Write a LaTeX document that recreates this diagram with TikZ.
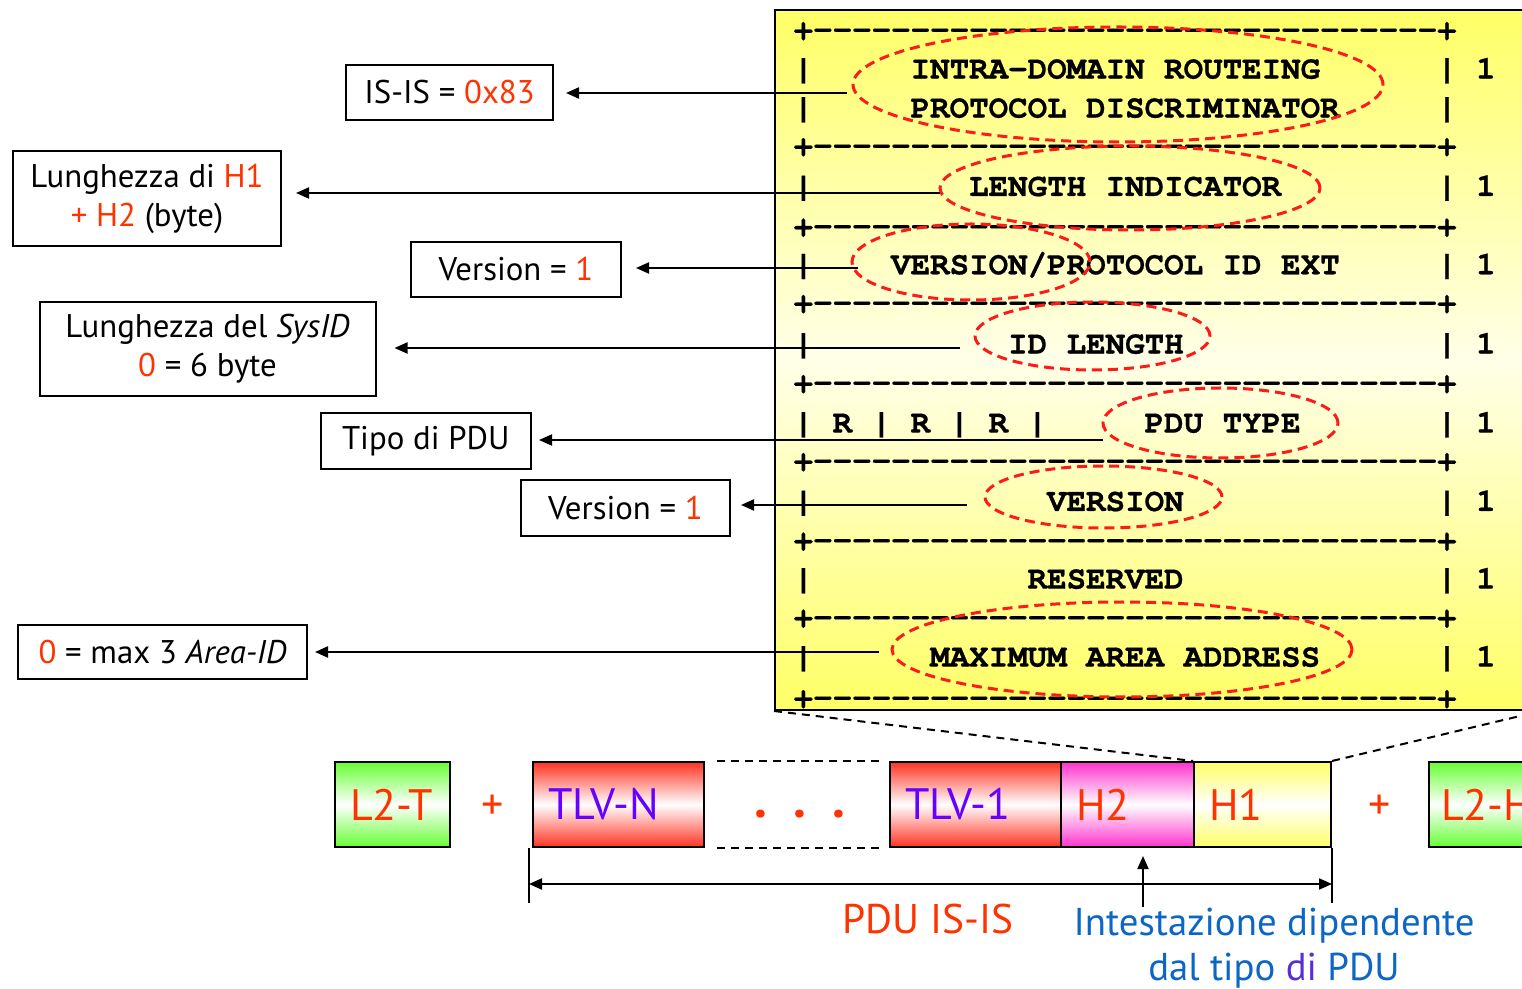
\documentclass[tikz,border=0pt]{standalone}
\usepackage{fontspec}
\setmainfont{PT Sans}
\setmonofont{texgyrecursor}[Extension=.otf,UprightFont=*-regular,BoldFont=*-bold,ItalicFont=*-italic,BoldItalicFont=*-bolditalic,BoldFeatures={FakeBold=0.6}]
\usetikzlibrary{shapes.geometric,arrows.meta}

\definecolor{hot}{HTML}{FF3300}
\definecolor{tlv}{HTML}{6600FF}
\definecolor{note}{HTML}{0B66C6}
\definecolor{notedi}{HTML}{5A2ED6}
\definecolor{ylw}{HTML}{FFFF66}
\definecolor{ylwpale}{HTML}{FFFFE8}
\definecolor{grn}{HTML}{66FF33}
\definecolor{rd}{HTML}{FF3322}
\definecolor{mag}{HTML}{FF33CC}
\definecolor{ovalred}{HTML}{FF1A1A}

% one ASCII separator line of the header layout
\newcommand\asciirule{+--------------------------------+}

\begin{document}
\begin{tikzpicture}[x=0.5pt,y=-0.5pt,
  lbl/.style={draw=black,line width=1pt,inner sep=0pt,align=center,
    font=\fontsize{16.4}{19.5}\selectfont},
  ascii/.style={anchor=west,inner sep=0pt,text height=9.3pt,text depth=0pt,
    font=\ttfamily\bfseries\fontsize{16.25}{16.25}\selectfont},
  oval/.style={ellipse,draw=ovalred,line width=1.5pt,dash pattern=on 5pt off 3pt,inner sep=0pt},
  arr/.style={-{Triangle[length=6.5pt,width=5.5pt]},line width=1pt},
  dimarr/.style={{Triangle[length=6.5pt,width=5.5pt]}-{Triangle[length=6.5pt,width=5.5pt]},line width=1pt},
  seg/.style={draw=black,line width=1pt,inner xsep=7.5pt,inner ysep=0pt,minimum height=42.5pt,
    text width=#1,align=left,font=\fontsize{22}{22}\selectfont},
  gapline/.style={line width=1pt,dash pattern=on 4pt off 3pt}]

\useasboundingbox (0,0) rectangle (1522,989);
\clip (0,0) rectangle (1522,989);
\fill[white] (0,0) rectangle (1522,989);

% ---------------- header panel ----------------
\node[draw=black,line width=1pt,minimum width=382.5pt,minimum height=350pt,inner sep=0pt,
  top color=ylw,bottom color=ylw,middle color=ylwpale] (hdr) at (1157.5,360) {};

\node[ascii] (r0)  at (793.25,30)    {\asciirule};
\node[ascii] (r1)  at (793.25,69.3)  {|~~~~~INTRA-DOMAIN ROUTEING~~~~~~|~1};
\node[ascii] (r2)  at (793.25,108.3) {|~~~~~PROTOCOL DISCRIMINATOR~~~~~|};
\node[ascii] (r3)  at (793.25,146)   {\asciirule};
\node[ascii] (r4)  at (793.25,186.7) {|~~~~~~~~LENGTH INDICATOR~~~~~~~~|~1};
\node[ascii] (r5)  at (793.25,226.5) {\asciirule};
\node[ascii] (r6)  at (793.25,265)   {|~~~~VERSION/PROTOCOL ID EXT~~~~~|~1};
\node[ascii] (r7)  at (793.25,303)   {\asciirule};
\node[ascii] (r8)  at (793.25,344.3) {|~~~~~~~~~~ID LENGTH~~~~~~~~~~~~~|~1};
\node[ascii] (r9)  at (793.25,383)   {\asciirule};
\node[ascii] (r10) at (793.25,423.3) {|~R~|~R~|~R~|~~~~~PDU TYPE~~~~~~~|~1};
\node[ascii] (r11) at (793.25,461)   {\asciirule};
\node[ascii] (r12) at (793.25,501.7) {|~~~~~~~~~~~~VERSION~~~~~~~~~~~~~|~1};
\node[ascii] (r13) at (793.25,540.5) {\asciirule};
\node[ascii] (r14) at (793.25,579.3) {|~~~~~~~~~~~RESERVED~~~~~~~~~~~~~|~1};
\node[ascii] (r15) at (793.25,617.5) {\asciirule};
\node[ascii] (r16) at (793.25,657.3) {|~~~~~~MAXIMUM AREA ADDRESS~~~~~~|~1};
\node[ascii] (r17) at (793.25,698)   {\asciirule};

% highlighted fields
\node[oval,minimum width=265pt,minimum height=57.5pt] (e1) at (1118,84.5) {};
\node[oval,minimum width=190pt,minimum height=42pt]   (e2) at (1130,188) {};
\node[oval,minimum width=119pt,minimum height=38pt]   (e3) at (971,262) {};
\node[oval,minimum width=117.5pt,minimum height=34pt] (e4) at (1092.5,336) {};
\node[oval,minimum width=117.5pt,minimum height=35pt] (e5) at (1220.5,423) {};
\node[oval,minimum width=118.5pt,minimum height=31pt] (e6) at (1103.5,497) {};
\node[oval,minimum width=230pt,minimum height=47.5pt] (e7) at (1122,649.5) {};

% ---------------- field descriptions ----------------
\node[lbl,minimum width=103.5pt,minimum height=27.5pt] (b1) at (449.5,92.5)
  {IS-IS = \textcolor{hot}{0x83}};
\node[lbl,minimum width=134pt,minimum height=47.5pt] (b2) at (147,198.5)
  {Lunghezza di \textcolor{hot}{H1}\\\textcolor{hot}{+ H2} (byte)};
\node[lbl,minimum width=105pt,minimum height=27.5pt] (b3) at (516,269.5)
  {Version = \textcolor{hot}{1}};
\node[lbl,minimum width=168pt,minimum height=47pt] (b4) at (207.5,349)
  {Lunghezza del \textit{SysID}\\\textcolor{hot}{0} = 6 byte};
\node[lbl,minimum width=105.25pt,minimum height=28pt] (b5) at (425.75,441)
  {Tipo di PDU};
\node[lbl,minimum width=104.5pt,minimum height=27.75pt] (b6) at (625.5,508.25)
  {Version = \textcolor{hot}{1}};
\node[lbl,minimum width=144.5pt,minimum height=27pt] (b7) at (162.5,652)
  {\textcolor{hot}{0} = max 3 \textit{Area-ID}};

% leader tails next to each highlighted field
\coordinate (t1) at (847,93);
\coordinate (t2) at (940,193);
\coordinate (t3) at (858,268);
\coordinate (t4) at (960,348);
\coordinate (t5) at (1103,440);
\coordinate (t6) at (967,505);
\coordinate (t7) at (879,652);

\draw[arr,shorten >=6pt]   (t1) -- (t1 -| b1.east);
\draw[arr,shorten >=7pt]   (t2) -- (t2 -| b2.east);
\draw[arr,shorten >=7pt]   (t3) -- (t3 -| b3.east);
\draw[arr,shorten >=9pt]   (t4) -- (t4 -| b4.east);
\draw[arr,shorten >=3.5pt] (t5) -- (t5 -| b5.east);
\draw[arr,shorten >=5pt]   (t6) -- (t6 -| b6.east);
\draw[arr,shorten >=3.5pt] (t7) -- (t7 -| b7.east);

% ---------------- frame layout ----------------
\node[seg=42.5pt,top color=grn,bottom color=grn,middle color=white,text=hot] (l2t) at (392.5,804.5) {\mbox{L2-T}};
\node[text=hot,font=\fontsize{22}{22}\selectfont,inner sep=0pt] (plus1) at (493,807) {+};
\node[seg=70.5pt,top color=rd,bottom color=rd,middle color=white,text=tlv] (tlvn) at (618.5,804.5) {\mbox{TLV-N}};
\node[text=hot,font=\fontsize{26}{26}\selectfont\bfseries,inner sep=0pt] (dots) at (800,814)
  {.\hspace{13pt}.\hspace{13pt}.};
\node[seg=70.5pt,top color=rd,bottom color=rd,middle color=white,text=tlv] (tlv1) at (975.5,804.5) {\mbox{TLV-1}};
\node[seg=51.5pt,top color=mag,bottom color=mag,middle color=white,text=hot] (h2) at (1127.5,804.5) {H2};
\node[seg=53.5pt,top color=ylw,bottom color=ylw,middle color=white,text=hot] (h1) at (1262.5,804.5) {H1};
\node[text=hot,font=\fontsize{22}{22}\selectfont,inner sep=0pt] (plus2) at (1380,807) {+};
\node[seg=45.5pt,top color=grn,bottom color=grn,middle color=white,text=hot,inner xsep=6pt] (l2h) at (1486.5,804.5) {\mbox{L2-H}};

\draw[gapline] ([xshift=6pt]tlvn.north east) -- ([xshift=-3.5pt]tlv1.north west);
\draw[gapline] ([xshift=6pt]tlvn.south east) -- ([xshift=-3.5pt]tlv1.south west);

% zoom from the header panel onto H1
\draw[gapline] (hdr.south west) -- (h1.north west);
\draw[gapline] (h1.north east) -- (hdr.south east);

% PDU extent
\draw[line width=0.8pt] ([xshift=-1.5pt]tlvn.south west) -- ++(0,55);
\draw[line width=0.8pt] (h1.south east) -- ++(0,55);
\coordinate (dl) at ([xshift=-1.5pt,yshift=-18pt]tlvn.south west);
\coordinate (dr) at ([yshift=-18pt]h1.south east);
\draw[dimarr] (dl) -- (dr);

\node[text=hot,font=\fontsize{20.7}{22}\selectfont,inner sep=0pt] (pdulbl) at (928,919) {PDU IS-IS};

\node[text=note,align=center,font=\fontsize{19.4}{22.5}\selectfont,inner sep=0pt] (hdrlbl) at (1274,948)
  {Intestazione dipendente\\dal tipo \textcolor{notedi}{di} PDU};
\coordinate (nt) at (1143,907);
\draw[arr,shorten >=4pt] (nt) -- (nt |- h2.south);

\end{tikzpicture}
\end{document}
